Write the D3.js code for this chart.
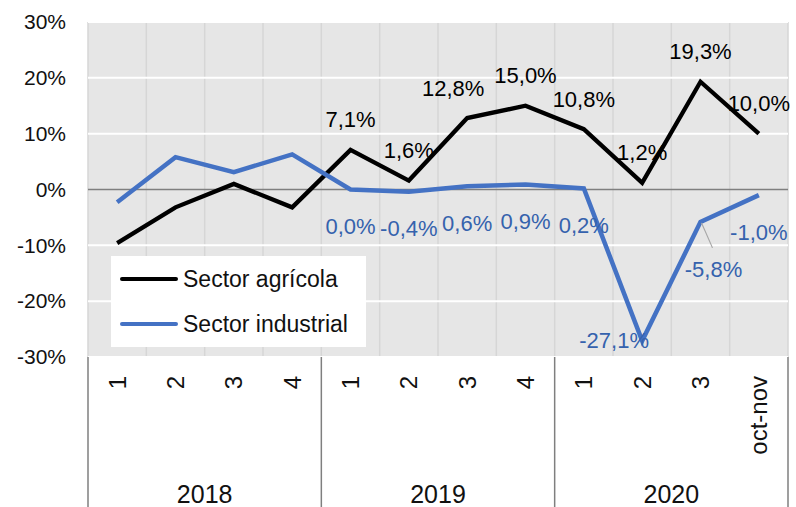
<!DOCTYPE html>
<html><head><meta charset="utf-8">
<script src="https://cdn.jsdelivr.net/npm/d3@7"></script>
<style>body{margin:0;background:#fff}svg{display:block}text{font-family:"Liberation Sans",Arial,sans-serif}</style>
</head><body><svg id="c" width="796" height="507"></svg>
<script>
const categories = ["1","2","3","4","1","2","3","4","1","2","3","oct-nov"];
const years = ["2018","2019","2020"];
const yearSizes = [4,4,4];
const agricola = [-9.6,-3.2,1.0,-3.2,7.1,1.6,12.8,15.0,10.8,1.2,19.3,10.0];
const industrial = [-2.3,5.8,3.1,6.3,0.0,-0.4,0.6,0.9,0.2,-27.1,-5.8,-1.0];
const labelFrom = 4;
const yTicks = [-30,-20,-10,0,10,20,30];
const seriesNames = ["Sector agrícola","Sector industrial"];

const svg = d3.select("#c");
const L=88,R=788,T=22,B=357;
const x = d3.scaleBand().domain(d3.range(categories.length)).range([L,R]).padding(0);
const cx = i => x(i)+x.bandwidth()/2;
const y = d3.scaleLinear().domain([-30,30]).range([B,T]);
const fmt = v => v.toFixed(1).replace(".",",")+"%";

svg.append("rect").attr("x",L).attr("y",T).attr("width",R-L).attr("height",B-T).attr("fill","#e6e6e6");
// vertical grid
svg.append("g").selectAll("line").data(d3.range(categories.length+1)).join("line")
  .attr("x1",i=>L+i*x.bandwidth()).attr("x2",i=>L+i*x.bandwidth()).attr("y1",T).attr("y2",B)
  .attr("stroke","#d6d6d6").attr("stroke-width",1.5);
// horizontal grid
svg.append("g").selectAll("line").data(yTicks.filter(d=>d!==0)).join("line")
  .attr("x1",L).attr("x2",R).attr("y1",d=>y(d)).attr("y2",d=>y(d)).attr("stroke","#fff").attr("stroke-width",2);
svg.append("line").attr("x1",L).attr("x2",R).attr("y1",y(0)).attr("y2",y(0)).attr("stroke","#7f7f7f").attr("stroke-width",1.5);

// y axis
const ya = svg.append("g").attr("transform",`translate(66,0)`).call(d3.axisLeft(y).tickValues(yTicks).tickSize(0).tickPadding(0).tickFormat(d=>d+"%"));
ya.select(".domain").remove();
ya.selectAll("text").attr("font-size",21).attr("fill","#111").attr("font-family","Liberation Sans, Arial, sans-serif");

// x axis categories
const xa = svg.append("g").attr("transform",`translate(0,${B})`).call(d3.axisBottom(x).tickSize(0).tickFormat(i=>categories[i]));
xa.select(".domain").remove();
xa.selectAll("text").attr("font-size",24).attr("fill","#111").attr("font-family","Liberation Sans, Arial, sans-serif")
  .attr("text-anchor","end").attr("dy",null).attr("transform","translate(0,19) rotate(-90)").attr("y",0).attr("x",0).attr("dominant-baseline","central");

// year separators
let acc=0; const bounds=[0];
yearSizes.forEach(n=>{acc+=n;bounds.push(acc);});
svg.append("g").selectAll("line").data(bounds).join("line")
  .attr("x1",i=>L+i*x.bandwidth()).attr("x2",i=>L+i*x.bandwidth()).attr("y1",B).attr("y2",507)
  .attr("stroke","#7f7f7f").attr("stroke-width",1.5);
svg.append("g").selectAll("text").data(years).join("text")
  .attr("x",(d,i)=>L+(bounds[i]+bounds[i+1])/2*x.bandwidth()).attr("y",503)
  .attr("text-anchor","middle").attr("font-size",25).attr("fill","#111").text(d=>d);

// lines
const line = d3.line().x((d,i)=>cx(i)).y(d=>y(d));
svg.append("path").datum(agricola).attr("d",line).attr("fill","none").attr("stroke","#000").attr("stroke-width",4.3).attr("stroke-linejoin","miter");
svg.append("path").datum(industrial).attr("d",line).attr("fill","none").attr("stroke","#4472c4").attr("stroke-width",4.5);

// labels agricola
const agDx = agricola.map((d,i)=> i===6 ? -14 : 0);
svg.append("g").selectAll("text").data(agricola.map((v,i)=>({v,i})).filter(d=>d.i>=labelFrom)).join("text")
  .attr("x",d=>cx(d.i)+agDx[d.i]).attr("y",d=>y(d.v)-30).attr("text-anchor","middle").attr("dominant-baseline","central")
  .attr("font-size",22).attr("fill","#000").text(d=>fmt(d.v));
// labels industrial
const indPlace = industrial.map((d,i)=> i===9 ? "left" : i===10 ? "callout" : "below");
const lblBlue = "#3562ad";
const indG = svg.append("g");
industrial.forEach((v,i)=>{
  if(i<labelFrom) return;
  let lx=cx(i), ly=y(v)+37, anchor="middle";
  if(indPlace[i]==="left"){ lx=cx(i)-28; ly=y(v); }
  if(indPlace[i]==="callout"){
    lx=cx(i)+13; ly=y(v)+48;
    indG.append("line").attr("x1",cx(i)+1).attr("y1",y(v)+1).attr("x2",cx(i)+12).attr("y2",y(v)+26).attr("stroke","#a6a6a6").attr("stroke-width",1.2);
  }
  indG.append("text").attr("x",lx).attr("y",ly).attr("text-anchor",anchor).attr("dominant-baseline","central")
    .attr("font-size",22).attr("fill",lblBlue).text(fmt(v));
});

// legend
const lg = svg.append("g");
lg.append("rect").attr("x",111).attr("y",256).attr("width",255).attr("height",91).attr("fill","#fff");
[["#000",279],["#4472c4",324]].forEach(([c,yy],k)=>{
  lg.append("line").attr("x1",122).attr("x2",176).attr("y1",yy).attr("y2",yy).attr("stroke",c).attr("stroke-width",4).attr("stroke-linecap","round");
  lg.append("text").attr("x",183).attr("y",yy).attr("dominant-baseline","central").attr("font-size",23).attr("fill","#111").text(seriesNames[k]);
});
</script></body></html>
